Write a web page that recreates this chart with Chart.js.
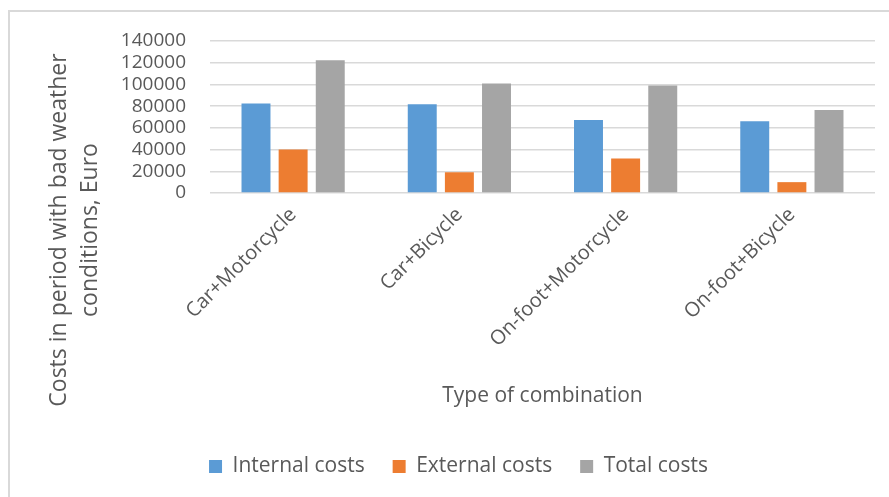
<!DOCTYPE html>
<html lang="en">
<head>
<meta charset="UTF-8">
<title>Costs in period with bad weather conditions</title>
<script src="https://cdn.jsdelivr.net/npm/chart.js@4.4.0/dist/chart.umd.min.js"></script>
<style>
  body { margin: 0; background: #fff; }
  #frame { position: absolute; left: 8px; top: 10px; width: 900px; height: 500px; border: 2px solid #d9d9d9; box-sizing: border-box; }
  #wrap { position: absolute; left: 0; top: 0; width: 889px; height: 497px; }
</style>
</head>
<body>
<div id="frame"></div>
<div id="wrap"><canvas id="myChart" width="889" height="497"></canvas></div>

<script>
const categories = ['Car+Motorcycle', 'Car+Bicycle', 'On-foot+Motorcycle', 'On-foot+Bicycle'];
const internalCosts = [82500, 81800, 67300, 66100];
const externalCosts = [40000, 19100, 31800, 10000];
const totalCosts = [122200, 100900, 99100, 76400];
const yTicks = [0, 20000, 40000, 60000, 80000, 100000, 120000, 140000];
const yTitle = ['Costs in period with bad weather', 'conditions, Euro'];

const gray = '#595959';
const ctx = document.getElementById('myChart').getContext('2d');

// y title is centred lower than the plot area in the original, so draw it by hand
const yTitlePlugin = {
  id: 'yTitle',
  beforeDraw(chart) {
    // legend sits a little right of centre in the original
    chart.legend.left += 21;
    chart.legend.right += 21;
  },
  afterDraw(chart) {
    const c = chart.ctx;
    c.save();
    c.fillStyle = gray;
    c.font = '23px "Open Sans"';
    c.textAlign = 'center';
    c.textBaseline = 'middle';
    c.translate(59, 230);
    c.rotate(-Math.PI / 2);
    yTitle.forEach((line, i) => c.fillText(line, 0, i * 31));
    c.restore();
  }
};

new Chart(ctx, {
  type: 'bar',
  data: {
    labels: categories,
    datasets: [
      { label: 'Internal costs', data: internalCosts, backgroundColor: '#5B9BD5' },
      { label: 'External costs', data: externalCosts, backgroundColor: '#ED7D31' },
      { label: 'Total costs', data: totalCosts, backgroundColor: '#A5A5A5' }
    ]
  },
  plugins: [yTitlePlugin],
  options: {
    responsive: false,
    animation: false,
    categoryPercentage: 0.67,
    barPercentage: 0.78,
    layout: { padding: { left: 0, right: 14, top: 41, bottom: 10 } },
    plugins: {
      tooltip: { enabled: false },
      legend: {
        position: 'bottom',
        labels: {
          boxWidth: 13, boxHeight: 13, padding: 28,
          color: gray,
          font: { family: 'Open Sans', size: 21 }
        }
      }
    },
    scales: {
      x: {
        afterFit: axis => { axis.height += 12; },
        grid: { display: false, drawTicks: false },
        border: { display: false },
        ticks: {
          color: gray, minRotation: 45, maxRotation: 45, padding: 10,
          font: { family: 'Open Sans', size: 20 }
        },
        title: {
          display: true, text: 'Type of combination', color: gray,
          font: { family: 'Open Sans', size: 21 },
          padding: { top: 10, bottom: 19 }
        }
      },
      y: {
        min: 0, max: 140000,
        afterBuildTicks: axis => { axis.ticks = yTicks.map(v => ({ value: v })); },
        afterFit: axis => { axis.width = 210; },
        grid: { color: '#d9d9d9', lineWidth: 1.5, drawTicks: false },
        border: { display: false },
        ticks: {
          color: gray, padding: 24, autoSkip: false,
          font: { family: 'Open Sans', size: 19 },
          callback: v => String(v)
        }
      }
    }
  }
});
</script>
</body>
</html>
